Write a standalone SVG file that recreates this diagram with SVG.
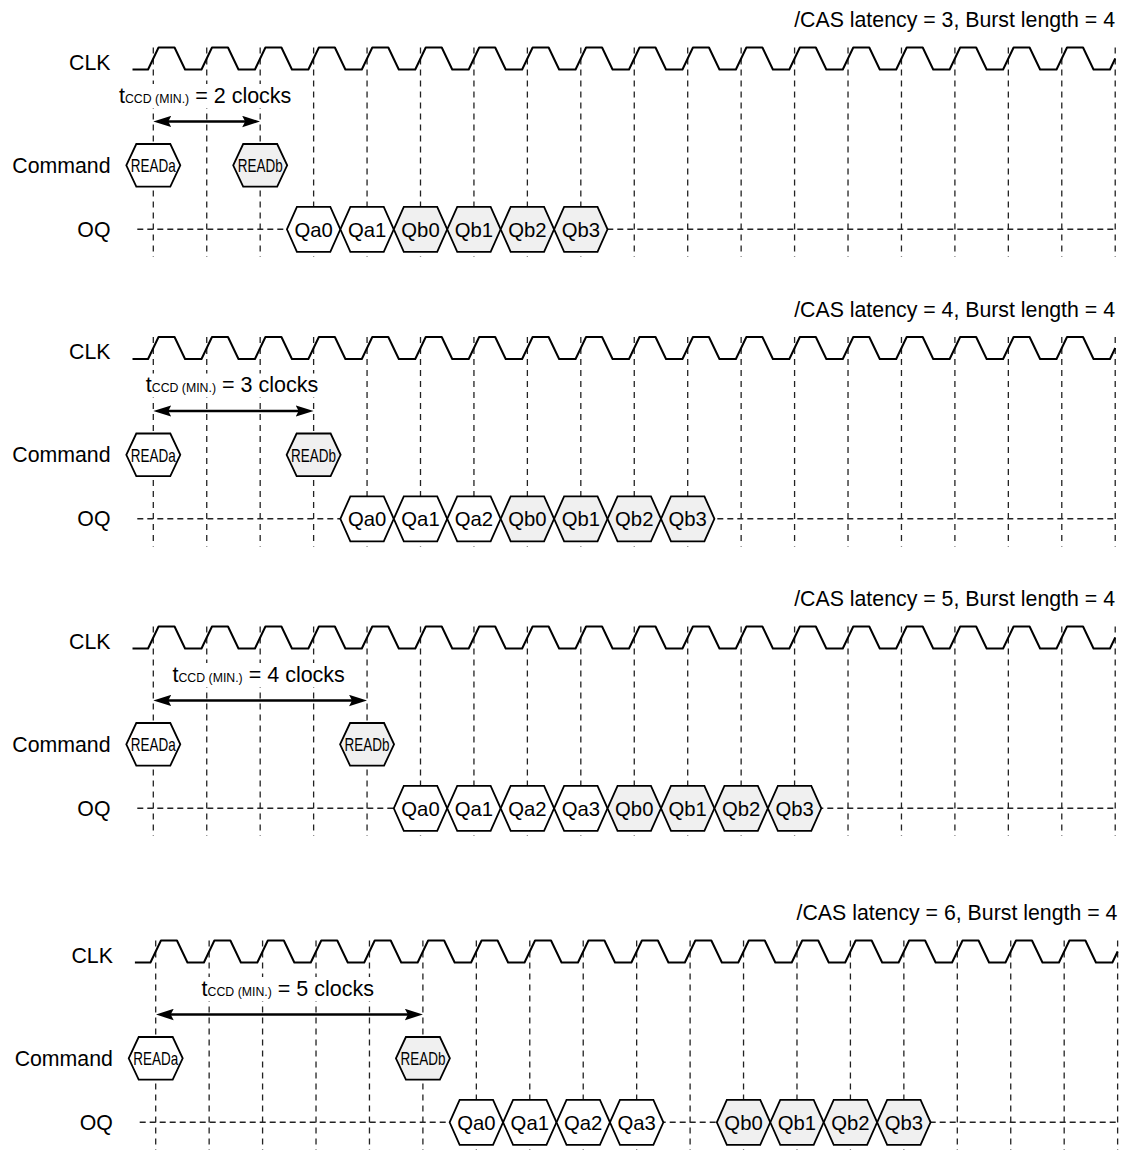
<svg xmlns="http://www.w3.org/2000/svg" width="1125" height="1150" viewBox="0 0 1125 1150">
<style>
text{font-family:"Liberation Sans",Arial,Helvetica,sans-serif;fill:#000}
.lbl{font-size:21.3px;text-anchor:end}
.hdr{font-size:21.3px;text-anchor:end}
.tccd{font-size:21.5px;text-anchor:middle}
.sub{font-size:12.3px}
.cmd{font-size:19px;text-anchor:middle}
.q{font-size:20.3px;text-anchor:middle}
.clk{fill:none;stroke:#000;stroke-width:2;stroke-linejoin:round}
.grid{fill:none;stroke:#222;stroke-width:1.3;stroke-dasharray:6 5}
.oq{fill:none;stroke:#222;stroke-width:1.4;stroke-dasharray:6 4}
.hx{stroke:#000;stroke-width:1.8;stroke-linejoin:miter}
.w{fill:#fff}
.g{fill:#f0f0f0}
.arr{fill:none;stroke:#000;stroke-width:2.6;marker-start:url(#ah);marker-end:url(#ah)}
.bg{fill:#fff}
</style>
<defs>
<marker id="ah" markerUnits="userSpaceOnUse" markerWidth="18" markerHeight="12" viewBox="0 0 18 12" refX="10" refY="6" orient="auto-start-reverse">
<path d="M0,0.3 L18,6 L0,11.7 L3,6 Z" fill="#000"/>
</marker>
<polygon id="hexC" class="hx" points="-27,0 -17,-21.3 17,-21.3 27,0 17,21.3 -17,21.3"/>
<polygon id="hexQ" class="hx" points="-26.72,0 -16.7,-22.5 16.7,-22.5 26.72,0 16.7,22.5 -16.7,22.5"/>
<path id="clkwave" class="clk" d="M132.5,69.5 H148.05 l10.5,-22 h16 l10.5,22 h16.44 l10.5,-22 h16 l10.5,22 h16.44 l10.5,-22 h16 l10.5,22 h16.44 l10.5,-22 h16 l10.5,22 h16.44 l10.5,-22 h16 l10.5,22 h16.44 l10.5,-22 h16 l10.5,22 h16.44 l10.5,-22 h16 l10.5,22 h16.44 l10.5,-22 h16 l10.5,22 h16.44 l10.5,-22 h16 l10.5,22 h16.44 l10.5,-22 h16 l10.5,22 h16.44 l10.5,-22 h16 l10.5,22 h16.44 l10.5,-22 h16 l10.5,22 h16.44 l10.5,-22 h16 l10.5,22 h16.44 l10.5,-22 h16 l10.5,22 h16.44 l10.5,-22 h16 l10.5,22 h16.44 l10.5,-22 h16 l10.5,22 h16.44 l10.5,-22 h16 l10.5,22 h16.44 l10.5,-22 h16 l10.5,22 h16.44 l5.25,-11"/>
<path id="gridlines" class="grid" d="M153.3,47.5V257 M206.74,47.5V257 M260.18,47.5V257 M313.62,47.5V257 M367.06,47.5V257 M420.5,47.5V257 M473.94,47.5V257 M527.38,47.5V257 M580.82,47.5V257 M634.26,47.5V257 M687.7,47.5V257 M741.14,47.5V257 M794.58,47.5V257 M848.02,47.5V257 M901.46,47.5V257 M954.9,47.5V257 M1008.34,47.5V257 M1061.78,47.5V257 M1115.22,47.5V257"/>
<path id="oqline" class="oq" d="M137.3,229.3 H1115.2"/>
</defs>

<!-- Panel 1 -->
<g id="panel1">
<text class="hdr" x="1115" y="27">/CAS latency = 3, Burst length = 4</text>
<text class="lbl" x="110.5" y="69.5">CLK</text>
<text class="lbl" x="110.5" y="172.5">Command</text>
<text class="lbl" x="110.5" y="236.8">OQ</text>
<use href="#gridlines"/>
<use href="#oqline"/>
<use href="#clkwave"/>
<g id="p1-tccd"><rect class="bg" x="114" y="84" width="183" height="24"/><text class="tccd" x="205.2" y="102.5">t<tspan class="sub">CCD (MIN.)</tspan> = 2 clocks</text></g>
<g id="p1-connectors"><line class="arr" x1="161.3" y1="121.5" x2="252.18" y2="121.5"/></g>
<g id="p1-READa" transform="translate(153.3,165.3)"><use href="#hexC" class="w"/><text class="cmd" y="7" textLength="45" lengthAdjust="spacingAndGlyphs">READa</text></g>
<g id="p1-READb" transform="translate(260.18,165.3)"><use href="#hexC" class="g"/><text class="cmd" y="7" textLength="45" lengthAdjust="spacingAndGlyphs">READb</text></g>
<g id="p1-Qa0" transform="translate(313.62,229.3)"><use href="#hexQ" class="w"/><text class="q" y="7.2">Qa0</text></g>
<g id="p1-Qa1" transform="translate(367.06,229.3)"><use href="#hexQ" class="w"/><text class="q" y="7.2">Qa1</text></g>
<g id="p1-Qb0" transform="translate(420.5,229.3)"><use href="#hexQ" class="g"/><text class="q" y="7.2">Qb0</text></g>
<g id="p1-Qb1" transform="translate(473.94,229.3)"><use href="#hexQ" class="g"/><text class="q" y="7.2">Qb1</text></g>
<g id="p1-Qb2" transform="translate(527.38,229.3)"><use href="#hexQ" class="g"/><text class="q" y="7.2">Qb2</text></g>
<g id="p1-Qb3" transform="translate(580.82,229.3)"><use href="#hexQ" class="g"/><text class="q" y="7.2">Qb3</text></g>
</g>

<!-- Panel 2 -->
<g id="panel2" transform="translate(0,289.5)">
<text class="hdr" x="1115" y="27">/CAS latency = 4, Burst length = 4</text>
<text class="lbl" x="110.5" y="69.5">CLK</text>
<text class="lbl" x="110.5" y="172.5">Command</text>
<text class="lbl" x="110.5" y="236.8">OQ</text>
<use href="#gridlines"/>
<use href="#oqline"/>
<use href="#clkwave"/>
<g id="p2-tccd"><rect class="bg" x="141" y="84" width="183" height="24"/><text class="tccd" x="232" y="102.5">t<tspan class="sub">CCD (MIN.)</tspan> = 3 clocks</text></g>
<g id="p2-connectors"><line class="arr" x1="161.3" y1="121.5" x2="305.62" y2="121.5"/></g>
<g id="p2-READa" transform="translate(153.3,165.3)"><use href="#hexC" class="w"/><text class="cmd" y="7" textLength="45" lengthAdjust="spacingAndGlyphs">READa</text></g>
<g id="p2-READb" transform="translate(313.62,165.3)"><use href="#hexC" class="g"/><text class="cmd" y="7" textLength="45" lengthAdjust="spacingAndGlyphs">READb</text></g>
<g id="p2-Qa0" transform="translate(367.06,229.3)"><use href="#hexQ" class="w"/><text class="q" y="7.2">Qa0</text></g>
<g id="p2-Qa1" transform="translate(420.5,229.3)"><use href="#hexQ" class="w"/><text class="q" y="7.2">Qa1</text></g>
<g id="p2-Qa2" transform="translate(473.94,229.3)"><use href="#hexQ" class="w"/><text class="q" y="7.2">Qa2</text></g>
<g id="p2-Qb0" transform="translate(527.38,229.3)"><use href="#hexQ" class="g"/><text class="q" y="7.2">Qb0</text></g>
<g id="p2-Qb1" transform="translate(580.82,229.3)"><use href="#hexQ" class="g"/><text class="q" y="7.2">Qb1</text></g>
<g id="p2-Qb2" transform="translate(634.26,229.3)"><use href="#hexQ" class="g"/><text class="q" y="7.2">Qb2</text></g>
<g id="p2-Qb3" transform="translate(687.7,229.3)"><use href="#hexQ" class="g"/><text class="q" y="7.2">Qb3</text></g>
</g>

<!-- Panel 3 -->
<g id="panel3" transform="translate(0,579)">
<text class="hdr" x="1115" y="27">/CAS latency = 5, Burst length = 4</text>
<text class="lbl" x="110.5" y="69.5">CLK</text>
<text class="lbl" x="110.5" y="172.5">Command</text>
<text class="lbl" x="110.5" y="236.8">OQ</text>
<use href="#gridlines"/>
<use href="#oqline"/>
<use href="#clkwave"/>
<g id="p3-tccd"><rect class="bg" x="167" y="84" width="183" height="24"/><text class="tccd" x="258.7" y="102.5">t<tspan class="sub">CCD (MIN.)</tspan> = 4 clocks</text></g>
<g id="p3-connectors"><line class="arr" x1="161.3" y1="121.5" x2="359.06" y2="121.5"/></g>
<g id="p3-READa" transform="translate(153.3,165.3)"><use href="#hexC" class="w"/><text class="cmd" y="7" textLength="45" lengthAdjust="spacingAndGlyphs">READa</text></g>
<g id="p3-READb" transform="translate(367.06,165.3)"><use href="#hexC" class="g"/><text class="cmd" y="7" textLength="45" lengthAdjust="spacingAndGlyphs">READb</text></g>
<g id="p3-Qa0" transform="translate(420.5,229.3)"><use href="#hexQ" class="w"/><text class="q" y="7.2">Qa0</text></g>
<g id="p3-Qa1" transform="translate(473.94,229.3)"><use href="#hexQ" class="w"/><text class="q" y="7.2">Qa1</text></g>
<g id="p3-Qa2" transform="translate(527.38,229.3)"><use href="#hexQ" class="w"/><text class="q" y="7.2">Qa2</text></g>
<g id="p3-Qa3" transform="translate(580.82,229.3)"><use href="#hexQ" class="w"/><text class="q" y="7.2">Qa3</text></g>
<g id="p3-Qb0" transform="translate(634.26,229.3)"><use href="#hexQ" class="g"/><text class="q" y="7.2">Qb0</text></g>
<g id="p3-Qb1" transform="translate(687.7,229.3)"><use href="#hexQ" class="g"/><text class="q" y="7.2">Qb1</text></g>
<g id="p3-Qb2" transform="translate(741.14,229.3)"><use href="#hexQ" class="g"/><text class="q" y="7.2">Qb2</text></g>
<g id="p3-Qb3" transform="translate(794.58,229.3)"><use href="#hexQ" class="g"/><text class="q" y="7.2">Qb3</text></g>
</g>

<!-- Panel 4 -->
<g id="panel4" transform="translate(2.4,893)">
<text class="hdr" x="1115" y="27">/CAS latency = 6, Burst length = 4</text>
<text class="lbl" x="110.5" y="69.5">CLK</text>
<text class="lbl" x="110.5" y="172.5">Command</text>
<text class="lbl" x="110.5" y="236.8">OQ</text>
<use href="#gridlines"/>
<use href="#oqline"/>
<use href="#clkwave"/>
<g id="p4-tccd"><rect class="bg" x="194" y="84" width="183" height="24"/><text class="tccd" x="285.4" y="102.5">t<tspan class="sub">CCD (MIN.)</tspan> = 5 clocks</text></g>
<g id="p4-connectors"><line class="arr" x1="161.3" y1="121.5" x2="412.5" y2="121.5"/></g>
<g id="p4-READa" transform="translate(153.3,165.3)"><use href="#hexC" class="w"/><text class="cmd" y="7" textLength="45" lengthAdjust="spacingAndGlyphs">READa</text></g>
<g id="p4-READb" transform="translate(420.5,165.3)"><use href="#hexC" class="g"/><text class="cmd" y="7" textLength="45" lengthAdjust="spacingAndGlyphs">READb</text></g>
<g id="p4-Qa0" transform="translate(473.94,229.3)"><use href="#hexQ" class="w"/><text class="q" y="7.2">Qa0</text></g>
<g id="p4-Qa1" transform="translate(527.38,229.3)"><use href="#hexQ" class="w"/><text class="q" y="7.2">Qa1</text></g>
<g id="p4-Qa2" transform="translate(580.82,229.3)"><use href="#hexQ" class="w"/><text class="q" y="7.2">Qa2</text></g>
<g id="p4-Qa3" transform="translate(634.26,229.3)"><use href="#hexQ" class="w"/><text class="q" y="7.2">Qa3</text></g>
<g id="p4-Qb0" transform="translate(741.14,229.3)"><use href="#hexQ" class="g"/><text class="q" y="7.2">Qb0</text></g>
<g id="p4-Qb1" transform="translate(794.58,229.3)"><use href="#hexQ" class="g"/><text class="q" y="7.2">Qb1</text></g>
<g id="p4-Qb2" transform="translate(848.02,229.3)"><use href="#hexQ" class="g"/><text class="q" y="7.2">Qb2</text></g>
<g id="p4-Qb3" transform="translate(901.46,229.3)"><use href="#hexQ" class="g"/><text class="q" y="7.2">Qb3</text></g>
</g>
</svg>
